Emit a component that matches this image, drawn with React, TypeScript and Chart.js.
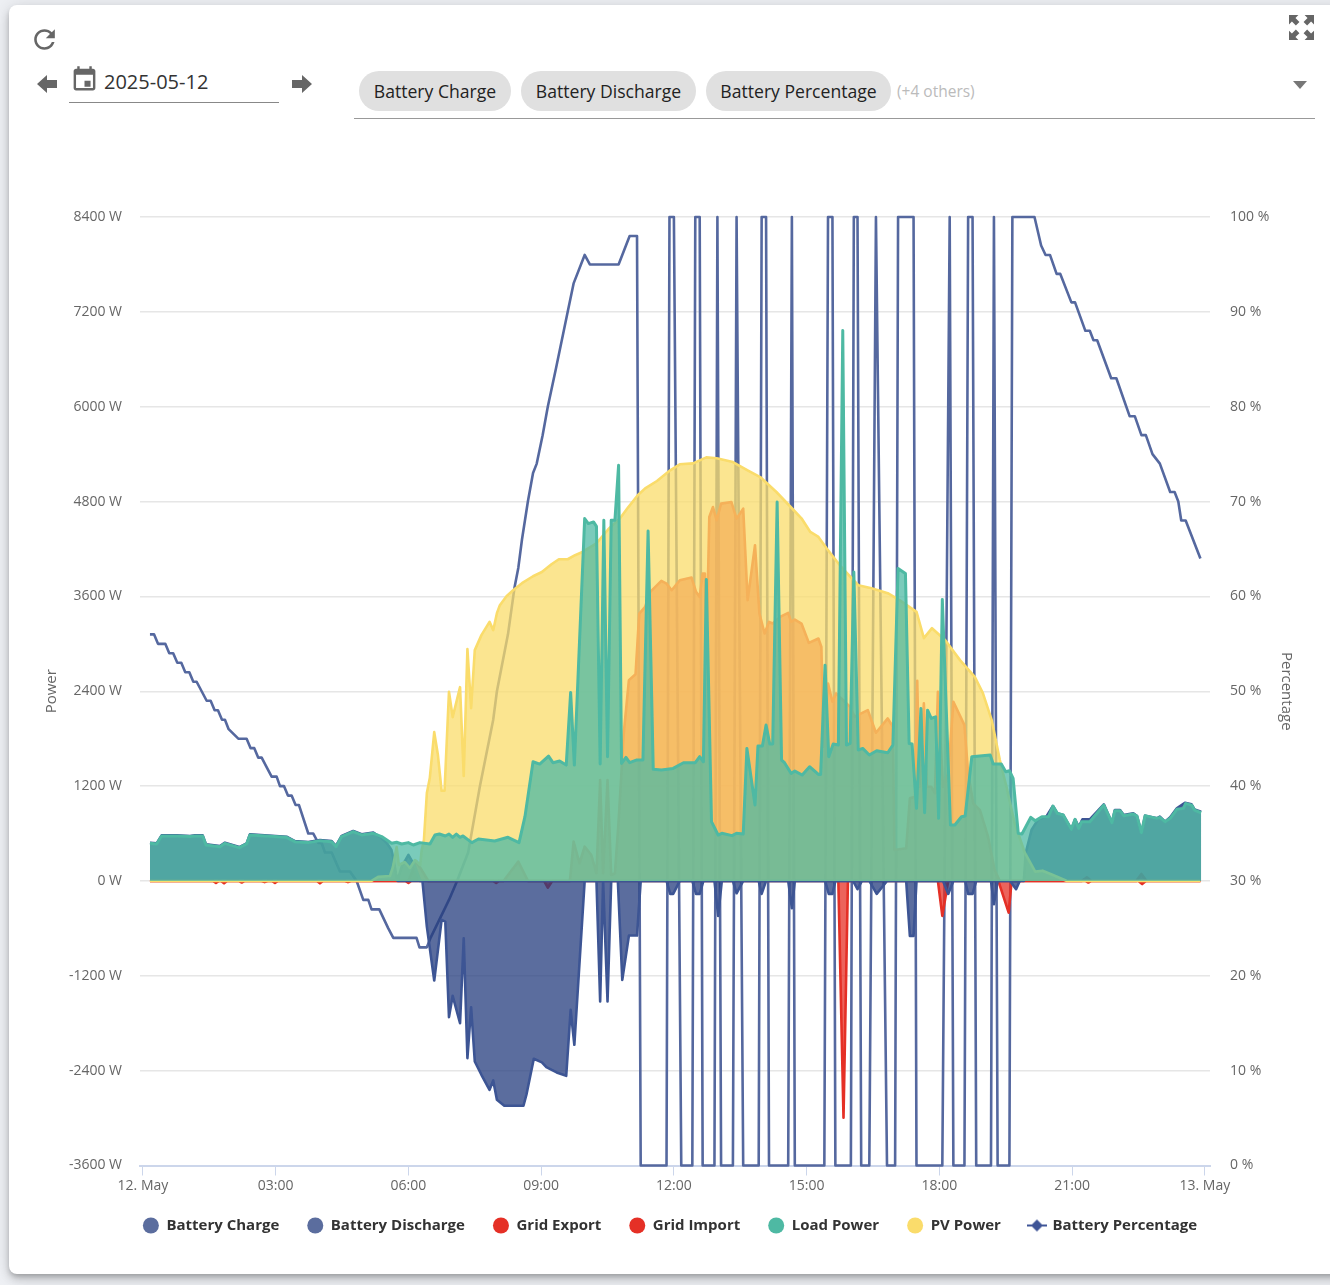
import React, { useEffect, useRef } from "react";
import { Chart, registerables } from "chart.js";

Chart.register(...registerables);

const xTickMinutes = [0, 180, 360, 540, 720, 900, 1080, 1260, 1440];
const xTickLabels = ["12. May", "03:00", "06:00", "09:00", "12:00", "15:00", "18:00", "21:00", "13. May"];
const seriesNames = ["Battery Charge", "Battery Discharge", "Grid Export", "Grid Import", "Load Power", "PV Power", "Battery Percentage"];

const chargeMinutes = [345, 379, 385, 395, 405, 410, 415, 420, 430, 435, 440, 445, 450, 459, 470, 475, 480, 490, 516, 520, 530, 541, 547, 561, 574, 580, 585, 599, 615, 620, 624, 630, 635, 644, 650, 659, 670, 675, 710, 715, 719, 728, 745, 750, 755, 760, 775, 780, 785, 800, 805, 814, 835, 839, 845, 875, 880, 884, 925, 930, 935, 939, 963, 969, 975, 985, 995, 1009, 1035, 1040, 1045, 1049, 1085, 1092, 1099, 1115, 1119, 1125, 1130, 1150, 1154, 1159, 1176, 1184, 1189];
const chargeWatts = [0, 0, -577, -1260, -493, -514, -1723, -1453, -1799, -725, -2241, -1597, -2284, -2452, -2642, -2524, -2768, -2844, -2844, -2705, -2250, -2296, -2355, -2423, -2465, -1630, -2073, 0, 0, -1525, 0, -1525, 0, 0, -1251, -691, -691, 0, 0, -164, -164, 0, 0, -164, -164, 0, 0, -442, 0, 0, -156, 0, 0, -164, 0, 0, -346, 0, 0, -164, -164, 0, 0, -105, 0, 0, -164, 0, 0, -695, -695, 0, 0, -164, 0, 0, -164, -164, 0, 0, -295, 0, 0, -105, 0];

const dischargeMinutes = [9.5, 18.6, 25.3, 45.7, 63.8, 70.5, 81, 85.5, 104.4, 111.2, 130.7, 140.6, 145, 194.8, 206.1, 224.2, 240, 255.9, 261.7, 269.4, 285.2, 296.5, 312.4, 324, 331, 337, 340, 343, 345, 351, 360, 369, 376, 1194.6, 1197, 1205, 1214, 1225, 1234, 1240, 1248, 1259, 1264, 1269, 1274, 1284, 1303, 1314, 1318, 1325, 1330, 1343, 1348, 1354, 1359, 1375, 1379, 1386, 1393, 1402, 1413, 1422, 1426, 1435];
const dischargeWatts = [484, 476, 577, 577, 569, 577, 577, 463, 442, 484, 429, 476, 590, 560, 505, 493, 518, 505, 442, 569, 632, 590, 611, 540, 476, 392, 266, 97, 4, 180, 329, 180, 0, 0, 350, 644, 779, 813, 948, 855, 834, 653, 779, 686, 779, 779, 969, 737, 897, 897, 834, 855, 821, 611, 826, 792, 813, 750, 805, 918, 990, 969, 905, 876];

const exportMinutes = [9.5, 360, 371, 387, 489, 509, 522, 579, 584, 592, 599, 608, 615, 620, 624, 630, 635, 640, 645, 652, 659, 668, 673, 681, 688, 703, 710, 717, 728, 744, 750, 755, 759, 762, 764, 768, 773, 778, 784, 798, 805, 814, 820, 830, 836, 843, 849, 854, 864, 875, 879, 884, 893, 903, 916, 920, 923, 929, 935, 940, 947, 959, 965, 974, 983, 994, 1010, 1017, 1019, 1035, 1040, 1047, 1050, 1053, 1059, 1063, 1069, 1074, 1078, 1085, 1092, 1099, 1114, 1119, 1126, 1135, 1146, 1155, 1162, 1273, 1280, 1286, 1347, 1354, 1361, 1434];
const exportWatts = [0, 0, 245, 0, 0, 245, 0, 0, 497, 224, 434, 329, 97, 1277, 97, 1277, 76, 97, 750, 1867, 2541, 2616, 3383, 3467, 3657, 3796, 3762, 3678, 3805, 3838, 3657, 3594, 3889, 3889, 2835, 4605, 4731, 4563, 4774, 4794, 4584, 4710, 3552, 4247, 3383, 3130, 3278, 3257, 3341, 3392, 3278, 3307, 3257, 3012, 3067, 2962, 1698, 2498, 2267, 2372, 2309, 2203, 2077, 2119, 2161, 1875, 2056, 1951, 392, 413, 1045, 1066, 2532, 1192, 2246, 1192, 1192, 1108, 2393, 1192, 1361, 2267, 1972, 1361, 982, 897, 560, 139, 0, 0, 46, 0, 0, 88, 0, 0];

const importMinutes = [9.5, 95, 99, 103, 106, 110, 114, 130, 134, 138, 161, 165, 169, 175, 179, 183, 236, 240, 244, 274, 278, 282, 356, 360, 364, 475, 479, 483, 544, 549, 555, 943, 950, 956, 1078, 1084, 1092, 1160, 1174, 1178, 1278, 1282, 1286, 1350, 1355, 1360, 1434];
const importWatts = [0, 0, -25, 0, 0, -30, 0, 0, -20, 0, 0, -15, 0, 0, -25, 0, 0, -30, 0, 0, -15, 0, 0, -25, 0, 0, -25, 0, 0, -85, 0, 0, -2996, 0, 0, -442, 0, 0, -400, 0, 0, -20, 0, 0, -40, 0, 0];

const loadMinutes = [9.5, 18.6, 25.3, 45.7, 63.8, 70.5, 81, 85.5, 104.4, 111.2, 130.7, 140.6, 145, 194.8, 206.1, 224.2, 240, 255.9, 261.7, 269.4, 285.2, 296.5, 312.4, 323.7, 337.2, 344, 350.8, 359.8, 366.6, 375.6, 389.2, 396, 402, 410, 415, 420, 425, 430, 434, 446, 455, 477, 495, 510, 518, 529, 538, 550, 556, 565, 574, 580, 585, 599, 604, 611, 615, 620, 625, 630, 635, 640, 645, 649, 655, 660, 669, 678, 685, 692, 703, 719, 733, 749, 755, 760, 764, 771, 780, 785, 799, 805, 814, 819, 830, 834, 840, 845, 850, 854, 860, 866, 870, 879, 884, 894, 904, 916, 919, 925, 930, 936, 943, 949, 954, 959, 964, 970, 976, 985, 995, 1010, 1017, 1024, 1034, 1039, 1043, 1049, 1055, 1060, 1064, 1069, 1075, 1079, 1084, 1095, 1101, 1110, 1115, 1124, 1149, 1153, 1164, 1170, 1175, 1180, 1187, 1192, 1204, 1210, 1219, 1228, 1234, 1240, 1248, 1259, 1264, 1269, 1273, 1284, 1303, 1314, 1318, 1325, 1330, 1343, 1348, 1354, 1359, 1375, 1379, 1386, 1393, 1402, 1411, 1414, 1422, 1426, 1435];
const loadWatts = [476, 468, 569, 569, 561, 569, 569, 455, 434, 476, 421, 468, 582, 552, 497, 485, 510, 497, 434, 561, 624, 582, 603, 561, 476, 489, 468, 485, 455, 485, 468, 582, 594, 569, 594, 552, 594, 552, 569, 485, 531, 506, 552, 485, 813, 1508, 1479, 1580, 1496, 1517, 1466, 2385, 1466, 4584, 4521, 4542, 4487, 1479, 4563, 1572, 4563, 4563, 5258, 1487, 1563, 1496, 1530, 1530, 4428, 1412, 1403, 1424, 1496, 1496, 1572, 1508, 3813, 750, 581, 603, 573, 603, 594, 1677, 961, 1706, 1706, 1972, 1732, 1732, 4795, 1530, 1496, 1361, 1390, 1340, 1445, 1348, 1348, 2730, 1572, 1732, 1719, 6965, 1719, 1740, 3910, 1656, 1677, 1593, 1647, 1622, 1719, 3952, 3889, 1740, 1732, 919, 2182, 864, 2161, 2056, 2077, 792, 3560, 708, 708, 813, 822, 1571, 1592, 1479, 1479, 1382, 1394, 1297, 602, 594, 805, 762, 813, 813, 948, 855, 834, 653, 779, 665, 750, 750, 960, 737, 889, 889, 826, 847, 821, 611, 826, 792, 805, 750, 792, 906, 918, 981, 960, 897, 863];

const pvMinutes = [9.5, 310, 319, 335, 339, 344, 347, 355, 362, 369, 376, 378, 381, 385, 389, 395, 400, 405, 409, 415, 420, 430, 435, 440, 445, 450, 459, 470, 475, 480, 484, 493, 502, 514, 529, 541, 554, 564, 576, 586, 596, 615, 631, 647, 658, 671, 681, 697, 715, 728, 746, 764, 778, 800, 820, 837, 859, 880, 893, 905, 916, 927, 945, 970, 988, 1010, 1026, 1049, 1059, 1070, 1088, 1108, 1128, 1139, 1151, 1162, 1171, 1182, 1196, 1210, 1220, 1234, 1253, 1434];
const pvWatts = [0, 0, 51, 63, 177, 430, 202, 240, 164, 265, 202, 392, 518, 1112, 1302, 1883, 1593, 1141, 1141, 2393, 2073, 2452, 1327, 2933, 2187, 2920, 3110, 3278, 3173, 3388, 3489, 3602, 3678, 3767, 3855, 3909, 4007, 4070, 4070, 4121, 4162, 4272, 4449, 4588, 4727, 4879, 4967, 5060, 5195, 5271, 5283, 5359, 5347, 5300, 5195, 5110, 4921, 4715, 4588, 4415, 4352, 4209, 3994, 3741, 3703, 3640, 3552, 3404, 3072, 3198, 3046, 2794, 2583, 2376, 2035, 1529, 1192, 733, 354, 118, 130, 76, 0, 0];

const percentMinutes = [9.5, 15, 20.4, 30.3, 35.7, 41, 46.6, 52, 57.4, 62.9, 68.3, 72.8, 79.6, 86.4, 91.8, 97.2, 101.7, 107.2, 111.2, 116.2, 129.3, 140.6, 146, 151, 156.4, 161, 167.7, 174.5, 181.3, 185.8, 191.2, 196.6, 201.6, 207, 211.6, 224.2, 231, 237.8, 242.3, 246.8, 255.9, 267.2, 280.7, 289.8, 298.8, 305.6, 310, 320.5, 332.7, 339.5, 371, 375, 385, 390, 415, 426, 441, 457, 475, 480, 495, 504, 509, 514, 522, 529, 534, 542, 549, 560, 576, 584, 599, 606, 645, 660, 670, 675, 710, 714, 720, 730, 745, 749, 755, 759, 775, 779, 784, 800, 805, 814, 835, 839, 845, 849, 875, 880, 884, 924, 929, 935, 939, 960, 964, 969, 974, 985, 994, 1009, 1020, 1024, 1045, 1049, 1084, 1094, 1099, 1114, 1119, 1125, 1130, 1150, 1154, 1159, 1175, 1179, 1209, 1218, 1224, 1230, 1239, 1244, 1259, 1264, 1278, 1284, 1289, 1294, 1313, 1320, 1338, 1345, 1354, 1360, 1369, 1379, 1393, 1399, 1404, 1408, 1414, 1434];
const percentValues = [56, 56, 55, 55, 54, 54, 53, 53, 52, 52, 51, 51, 50, 49, 49, 48, 48, 47, 47, 46, 45, 45, 44, 44, 43, 43, 42, 41, 41, 40, 40, 39, 39, 38, 38, 35, 35, 34, 34, 33, 33, 31, 31, 30, 28, 28, 27, 27, 25, 24, 24, 23, 23, 24, 28, 30, 33, 40, 47, 50, 56, 61, 63, 66, 70, 73, 74, 77, 80, 84, 90, 93, 96, 95, 95, 98, 98, 0, 0, 100, 100, 0, 0, 100, 100, 0, 0, 100, 0, 0, 100, 0, 0, 100, 100, 0, 0, 100, 0, 0, 100, 100, 0, 0, 100, 100, 0, 0, 100, 0, 0, 100, 100, 0, 0, 100, 0, 0, 100, 100, 0, 0, 100, 0, 0, 100, 100, 97, 96, 96, 94, 94, 91, 91, 88, 88, 87, 87, 83, 83, 79, 79, 77, 77, 75, 74, 71, 71, 70, 68, 68, 64];

const BLUE_LEGEND = "#5b6d9e";
const BLUE_LINE = "#3d5594";
const BLUE_FILL = "rgba(36,60,126,0.75)";
const PCT_LINE = "#55689f";
const RED = "#e53026";
const RED_FILL = "rgba(229,48,38,0.75)";
const TEAL = "#4eb9a3";
const TEAL_FILL = "rgba(78,186,164,0.75)";
const YELLOW = "#fadc6b";
const YELLOW_FILL = "rgba(250,220,107,0.75)";

const pairs = (xs: number[], ys: number[]) => xs.map((x, i) => ({ x, y: ys[i] }));

function makeMarker(): HTMLCanvasElement {
  const c = document.createElement("canvas");
  c.width = 20;
  c.height = 14;
  const g = c.getContext("2d")!;
  g.fillStyle = "#3f5597";
  g.fillRect(0, 6, 20, 2);
  g.beginPath();
  g.moveTo(10, 1);
  g.lineTo(16, 7);
  g.lineTo(10, 13);
  g.lineTo(4, 7);
  g.closePath();
  g.fill();
  return c;
}

const iconColor = "#666";

export default function App() {
  const ref = useRef<HTMLCanvasElement | null>(null);

  useEffect(() => {
    const marker = makeMarker();
    const legendColors = [BLUE_LEGEND, BLUE_LEGEND, RED, RED, TEAL, YELLOW, "#3f5597"];
    const area = (i: number, xs: number[], ys: number[], line: string, fill: string, order: number, width: number) => ({
      label: seriesNames[i],
      data: pairs(xs, ys),
      borderColor: line,
      backgroundColor: fill,
      borderWidth: width,
      borderJoinStyle: "round" as const,
      fill: "origin",
      pointRadius: 0,
      tension: 0,
      yAxisID: "yPower",
      order,
    });
    const chart = new Chart(ref.current!, {
      type: "line",
      data: {
        datasets: [
          area(0, chargeMinutes, chargeWatts, BLUE_LINE, BLUE_FILL, 4, 2.6),
          area(1, dischargeMinutes, dischargeWatts, BLUE_LINE, BLUE_FILL, 3, 2.6),
          area(2, exportMinutes, exportWatts, RED, RED_FILL, 6, 2.6),
          area(3, importMinutes, importWatts, RED, RED_FILL, 5, 2.6),
          area(4, loadMinutes, loadWatts, TEAL, TEAL_FILL, 1, 3),
          area(5, pvMinutes, pvWatts, YELLOW, YELLOW_FILL, 2, 2.6),
          {
            label: seriesNames[6],
            data: pairs(percentMinutes, percentValues),
            borderColor: PCT_LINE,
            backgroundColor: PCT_LINE,
            borderWidth: 2.6,
            borderJoinStyle: "round" as const,
            fill: false,
            pointRadius: 0,
            tension: 0,
            yAxisID: "yPercent",
            order: 7,
            clip: false,
          },
        ],
      },
      options: {
        responsive: false,
        animation: false,
        parsing: false,
        normalized: true,
        layout: { padding: { top: 217, left: 10, right: 0, bottom: 42 } },
        plugins: {
          tooltip: { enabled: false },
          title: { display: false },
          legend: {
            position: "bottom",
            labels: {
              usePointStyle: true,
              boxWidth: 15,
              pointStyleWidth: 16,
              boxHeight: 11.3,
              padding: 28,
              color: "#333333",
              font: { family: "'Open Sans'", size: 15, weight: 700 },
              generateLabels: (c: any) =>
                c.data.datasets.map((d: any, i: number) => ({
                  text: d.label,
                  fillStyle: legendColors[i],
                  strokeStyle: legendColors[i],
                  lineWidth: 0,
                  pointStyle: i === 6 ? marker : "circle",
                  fontColor: "#333333",
                  datasetIndex: i,
                  hidden: false,
                })),
            },
          },
        },
        scales: {
          x: {
            type: "linear",
            min: -4,
            max: 1447,
            afterBuildTicks: (s: any) => {
              s.ticks = xTickMinutes.map((value) => ({ value }));
              s._computeLabelArea = () => undefined;
            },
            afterFit: (s: any) => {
              s.height = 24.5;
            },
            border: { color: "#ccd6eb", width: 2 },
            grid: { drawOnChartArea: false, drawTicks: true, tickLength: 10, color: "#ccd6eb", lineWidth: 1 },
            ticks: {
              autoSkip: false,
              maxRotation: 0,
              padding: 2,
              color: "#666666",
              font: { family: "'Open Sans'", size: 14 },
              callback: (_v: any, i: number) => xTickLabels[i],
            },
          },
          yPower: {
            type: "linear",
            axis: "y",
            position: "left",
            min: -3600,
            max: 8400,
            afterFit: (s: any) => {
              s.width = 130;
            },
            border: { display: false },
            grid: { color: "#e6e6e6", lineWidth: 1.5, drawTicks: false },
            title: { display: true, text: "Power", color: "#666666", font: { family: "'Open Sans'", size: 15 }, padding: { top: 33, bottom: 0 } },
            ticks: {
              stepSize: 1200,
              padding: 18,
              color: "#666666",
              font: { family: "'Open Sans'", size: 14 },
              callback: (v: any) => `${v} W`,
            },
          },
          yPercent: {
            type: "linear",
            axis: "y",
            position: "right",
            min: 0,
            max: 100,
            afterFit: (s: any) => {
              s.width = 120;
            },
            border: { display: false },
            grid: { display: false, drawTicks: false },
            title: { display: true, text: "Percentage", color: "#666666", font: { family: "'Open Sans'", size: 15 }, padding: { top: 35, bottom: 0 } },
            ticks: {
              stepSize: 10,
              padding: 20,
              color: "#666666",
              font: { family: "'Open Sans'", size: 14 },
              callback: (v: any) => `${v} %`,
            },
          },
        },
      },
    } as any);
    return () => chart.destroy();
  }, []);

  const font = "'Open Sans', sans-serif";
  const chip = (left: number, width: number, text: string) => (
    <div
      style={{
        position: "absolute",
        left,
        top: 71,
        width,
        height: 40,
        borderRadius: 20,
        background: "#e0e0e0",
        color: "#222",
        fontFamily: font,
        fontSize: 17.6,
        lineHeight: "41px",
        textAlign: "center",
        whiteSpace: "nowrap",
      }}
    >
      {text}
    </div>
  );

  return (
    <div style={{ position: "fixed", left: 0, top: 0, width: 1330, height: 1285, overflow: "hidden", background: "#eef0f4" }}>
      <div
        style={{
          position: "absolute",
          left: 9,
          top: 5,
          width: 1340,
          height: 1269,
          background: "#fff",
          borderRadius: 8,
          boxShadow: "0 3px 5px -1px rgba(0,0,0,.2),0 6px 10px 0 rgba(0,0,0,.14),0 1px 18px 0 rgba(0,0,0,.12)",
        }}
      />
      <svg style={{ position: "absolute", left: 29, top: 24 }} width="31" height="31" viewBox="0 0 24 24" fill={iconColor}>
        <path d="M17.65 6.35C16.2 4.9 14.21 4 12 4c-4.42 0-7.99 3.58-7.99 8s3.57 8 7.99 8c3.73 0 6.84-2.55 7.73-6h-2.08c-.82 2.33-3.04 4-5.65 4-3.31 0-6-2.69-6-6s2.69-6 6-6c1.66 0 3.14.69 4.22 1.78L13 11h7V4l-2.35 2.35z" />
      </svg>
      <svg style={{ position: "absolute", left: 1289, top: 15 }} width="25" height="25" viewBox="0 0 24 24" fill={iconColor}>
        <path d="M0 0h9L6.2 2.8 10 6.6 6.6 10 2.8 6.2 0 9zM24 0v9l-2.8-2.8L17.4 10 14 6.6l3.8-3.8L15 0zM0 24v-9l2.8 2.8L6.6 14 10 17.4l-3.8 3.8L9 24zM24 24h-9l2.8-2.8L14 17.4l3.4-3.4 3.8 3.8L24 15z" />
      </svg>
      <svg style={{ position: "absolute", left: 36, top: 73 }} width="22" height="22" viewBox="0 0 22 22" fill={iconColor}>
        <path d="M1 11 11 2v5h10v8H11v5z" />
      </svg>
      <svg style={{ position: "absolute", left: 291, top: 73 }} width="22" height="22" viewBox="0 0 22 22" fill={iconColor}>
        <path d="M21 11 11 2v5H1v8h10v5z" />
      </svg>
      <svg style={{ position: "absolute", left: 70, top: 65 }} width="29" height="29" viewBox="0 0 24 24" fill={iconColor}>
        <path d="M19 3h-1V1h-2v2H8V1H6v2H5c-1.11 0-1.99.9-1.99 2L3 19c0 1.1.89 2 2 2h14c1.1 0 2-.9 2-2V5c0-1.1-.9-2-2-2zm0 16H5V8h14v11zM12 13h5v5h-5z" />
      </svg>
      <div style={{ position: "absolute", left: 104, top: 68, fontFamily: font, fontSize: 20, lineHeight: "28px", color: "#333", whiteSpace: "nowrap" }}>2025-05-12</div>
      <div style={{ position: "absolute", left: 69, top: 102, width: 210, height: 1, background: "#888" }} />
      {chip(359, 152, "Battery Charge")}
      {chip(521, 175, "Battery Discharge")}
      {chip(706, 185, "Battery Percentage")}
      <div style={{ position: "absolute", left: 897, top: 80, fontFamily: font, fontSize: 15.5, lineHeight: "22px", color: "#bbb", whiteSpace: "nowrap" }}>(+4 others)</div>
      <svg style={{ position: "absolute", left: 1292, top: 80 }} width="16" height="10" viewBox="0 0 16 10" fill="#777">
        <path d="M1 1h14L8 9z" />
      </svg>
      <div style={{ position: "absolute", left: 354, top: 118, width: 961, height: 1, background: "#999" }} />
      <canvas ref={ref} width={1330} height={1285} style={{ position: "absolute", left: 0, top: 0, width: 1330, height: 1285 }} />
    </div>
  );
}
